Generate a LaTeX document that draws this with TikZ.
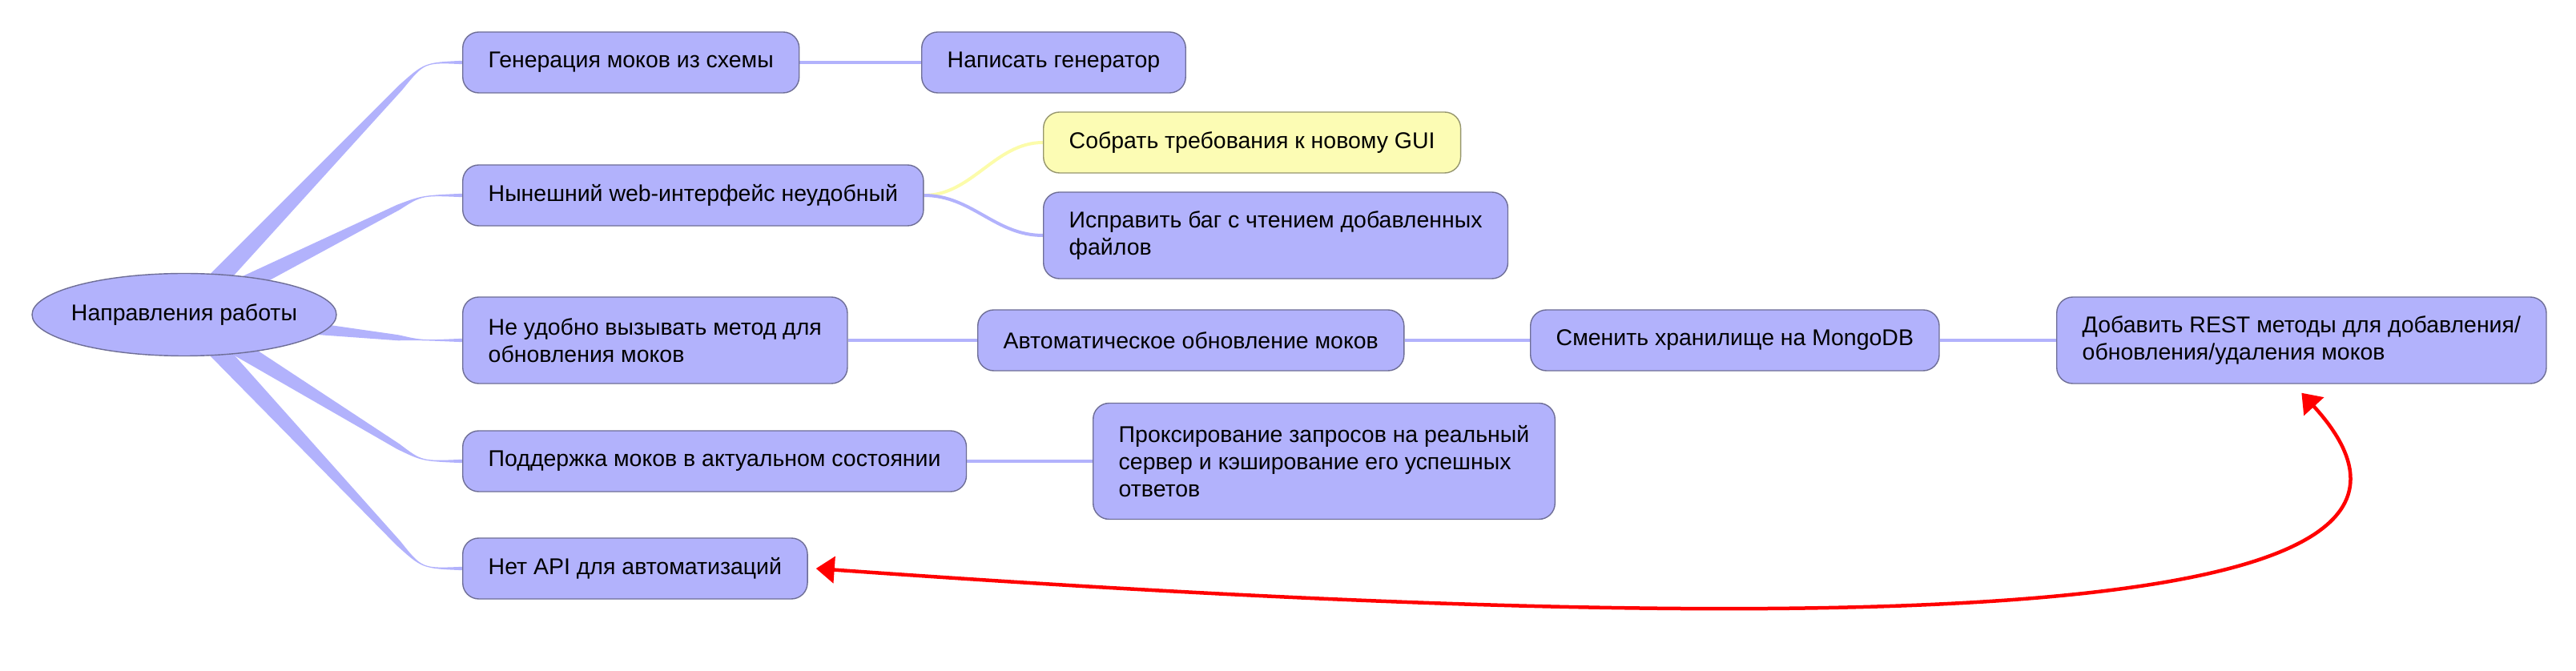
\documentclass[tikz,border=0pt]{standalone}
\usepackage{fontspec}
\setmainfont{Liberation Sans}
\usetikzlibrary{shapes.geometric,calc,arrows.meta,backgrounds}
\definecolor{topicfill}{RGB}{178,178,252}
\definecolor{topicline}{RGB}{110,110,150}
\definecolor{notefill}{RGB}{252,252,180}
\definecolor{noteline}{RGB}{150,150,110}
\definecolor{noteedge}{RGB}{252,252,170}

\begin{document}
\begin{tikzpicture}[
  topic/.style={draw=topicline, fill=topicfill, rounded corners=0.2cm, minimum height=0.76cm, inner xsep=0.32cm, inner ysep=0.1cm, align=left, anchor=west, font=\fontsize{8.1}{9.6}\selectfont},
  note/.style={topic, draw=noteline, fill=notefill},
  branch/.style={fill=topicfill},
  twig/.style={draw=topicfill, line width=0.04cm},
  link/.style={draw=red, line width=0.045cm, {Triangle[length=0.23cm,width=0.33cm]}-{Triangle[length=0.23cm,width=0.33cm]}}
]
\useasboundingbox (0,0) rectangle (32.16,-8.38);

\node[draw=topicline, fill=topicfill, ellipse, inner sep=0pt, minimum width=3.8cm, minimum height=1.03cm, font=\fontsize{8.1}{9.6}\selectfont] (root) at (2.30,-3.93) {\makebox[2.5cm]{Направления работы}};

\node[topic] (gen) at (5.77,-0.78) {Генерация моков из схемы};
\node[topic] (web) at (5.77,-2.44) {Нынешний web-интерфейс неудобный};
\node[topic, minimum height=1.08cm] (call) at (5.77,-4.25) {Не удобно вызывать метод для\\обновления моков};
\node[topic] (keep) at (5.77,-5.76) {Поддержка моков в актуальном состоянии};
\node[topic] (api) at (5.77,-7.10) {Нет API для автоматизаций};

\node[topic] (writer) at (11.50,-0.78) {Написать генератор};
\node[note] (gui) at (13.02,-1.78) {Собрать требования к новому GUI};
\node[topic, minimum height=1.08cm] (bug) at (13.02,-2.94) {Исправить баг с чтением добавленных\\файлов};
\node[topic] (auto) at (12.20,-4.25) {Автоматическое обновление моков};
\node[topic] (mongo) at (19.10,-4.25) {Сменить хранилище на MongoDB};
\node[topic, minimum height=1.08cm] (rest) at (25.67,-4.25) {Добавить REST методы для добавления/\\обновления/удаления моков};
\node[topic, minimum height=1.45cm] (proxy) at (13.64,-5.76) {Проксирование запросов на реальный\\сервер и кэширование его успешных\\ответов};

\begin{pgfonlayer}{background}
% thick branches out of the root
\coordinate (q gen) at ($(gen.west)+(-0.47,0)$); \coordinate (p gen) at ($(root.center)!0.9!(q gen)$);
\fill[branch] ($(root.center)!0.13cm!90:(q gen)$) -- ($(p gen)!0.035cm!-90:(root.center)$) .. controls (q gen) .. ($(gen.west)+(0,0.022)$) -- ($(gen.west)+(0,-0.022)$) .. controls (q gen) .. ($(p gen)!0.035cm!90:(root.center)$) -- ($(root.center)!0.13cm!-90:(q gen)$) -- cycle;
\coordinate (q web) at ($(web.west)+(-0.5,0)$); \coordinate (p web) at ($(root.center)!0.9!(q web)$);
\fill[branch] ($(root.center)!0.13cm!90:(q web)$) -- ($(p web)!0.035cm!-90:(root.center)$) .. controls (q web) .. ($(web.west)+(0,0.022)$) -- ($(web.west)+(0,-0.022)$) .. controls (q web) .. ($(p web)!0.035cm!90:(root.center)$) -- ($(root.center)!0.13cm!-90:(q web)$) -- cycle;
\coordinate (q call) at ($(call.west)+(-0.5,0)$); \coordinate (p call) at ($(root.center)!0.9!(q call)$);
\fill[branch] ($(root.center)!0.13cm!90:(q call)$) -- ($(p call)!0.035cm!-90:(root.center)$) .. controls (q call) .. ($(call.west)+(0,0.022)$) -- ($(call.west)+(0,-0.022)$) .. controls (q call) .. ($(p call)!0.035cm!90:(root.center)$) -- ($(root.center)!0.13cm!-90:(q call)$) -- cycle;
\coordinate (q keep) at ($(keep.west)+(-0.5,0)$); \coordinate (p keep) at ($(root.center)!0.9!(q keep)$);
\fill[branch] ($(root.center)!0.13cm!90:(q keep)$) -- ($(p keep)!0.035cm!-90:(root.center)$) .. controls (q keep) .. ($(keep.west)+(0,0.022)$) -- ($(keep.west)+(0,-0.022)$) .. controls (q keep) .. ($(p keep)!0.035cm!90:(root.center)$) -- ($(root.center)!0.13cm!-90:(q keep)$) -- cycle;
\coordinate (q api) at ($(api.west)+(-0.5,0)$); \coordinate (p api) at ($(root.center)!0.9!(q api)$);
\fill[branch] ($(root.center)!0.13cm!90:(q api)$) -- ($(p api)!0.035cm!-90:(root.center)$) .. controls (q api) .. ($(api.west)+(0,0.022)$) -- ($(api.west)+(0,-0.022)$) .. controls (q api) .. ($(p api)!0.035cm!90:(root.center)$) -- ($(root.center)!0.13cm!-90:(q api)$) -- cycle;

% thin edges between topics
\draw[twig] (gen.east) -- (writer.west);
\draw[twig, draw=noteedge] (web.east) .. controls +(0.6,0) and +(-0.6,0) .. (gui.west);
\draw[twig] (web.east) .. controls +(0.6,0) and +(-0.6,0) .. (bug.west);
\draw[twig] (call.east) -- (auto.west);
\draw[twig] (auto.east) -- (mongo.west);
\draw[twig] (mongo.east) -- (rest.west);
\draw[twig] (keep.east) -- (proxy.west);
\end{pgfonlayer}

\draw[link] ([xshift=0.1cm]api.east) .. controls +(16.8,-1.2) and +(2.1,-2.3) .. ([yshift=-0.11cm]rest.south);
\end{tikzpicture}
\end{document}
